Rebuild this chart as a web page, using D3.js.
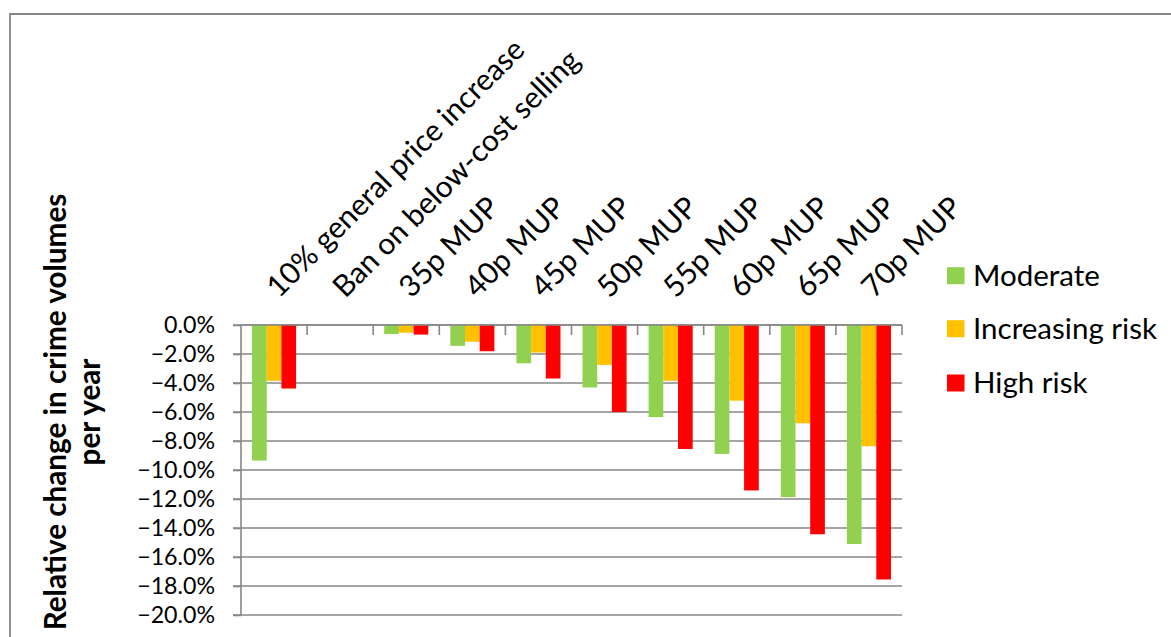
<!DOCTYPE html>
<html><head><meta charset="utf-8">
<script src="https://cdn.jsdelivr.net/npm/d3@7"></script>
<style>body{margin:0;background:#fff;} svg{display:block;font-family:Lato,'Open Sans',sans-serif;}</style>
</head><body><svg id="c" width="1171" height="637"></svg>
<script>
const categories = ["10% general price increase","Ban on below-cost selling","35p MUP","40p MUP","45p MUP","50p MUP","55p MUP","60p MUP","65p MUP","70p MUP"];
const seriesNames = ["Moderate","Increasing risk","High risk"];
const moderate = [-9.35,0,-0.62,-1.44,-2.64,-4.31,-6.35,-8.89,-11.87,-15.1];
const increasingRisk = [-3.85,0,-0.53,-1.15,-1.90,-2.75,-3.85,-5.22,-6.78,-8.36];
const highRisk = [-4.38,0,-0.66,-1.81,-3.69,-6.0,-8.55,-11.41,-14.43,-17.55];
const yTicks = [0,-2,-4,-6,-8,-10,-12,-14,-16,-18,-20];
const yTitle = ["Relative change in crime volumes","per year"];
const colors = ["#92D050","#FFC000","#FF0000"];

const seriesValues = [moderate, increasingRisk, highRisk];
const svg = d3.select("#c");
const grey = "#878787";

// measure helper for font fitting
const meas = svg.append("text").attr("x",-1000).attr("y",-1000);
function fitSize(str, target, weight){
  meas.attr("font-size",20).attr("font-weight",weight||"normal").text(str);
  const w = meas.node().getComputedTextLength();
  return 20*target/w;
}
const tickSize = fitSize("-20.0%", 73);
const catSize = fitSize("10% general price increase", 350);
const legSize = fitSize("Moderate", 127);
const titleSize = fitSize(yTitle[0], 437, "bold");
meas.remove();

// outer border
svg.append("path").attr("d","M10,637 V14 H1171").attr("fill","none").attr("stroke",grey).attr("stroke-width",1.8);

const x0 = d3.scaleBand().domain(categories).range([241,902]).padding(0);
const x1 = d3.scaleBand().domain(seriesNames).range([0,x0.bandwidth()]).paddingInner(0).paddingOuter(0.75);
const y = d3.scaleLinear().domain([0,-20]).range([325,615]);

// gridlines
svg.append("g").selectAll("line").data(yTicks).join("line")
  .attr("x1",233).attr("x2",902)
  .attr("y1",d=>y(d)).attr("y2",d=>y(d))
  .attr("stroke",grey).attr("stroke-width",1.6);

// bars
const groups = svg.append("g").selectAll("g").data(categories).join("g")
  .attr("transform",d=>`translate(${x0(d)},0)`);
groups.selectAll("rect").data((c,i)=>seriesNames.map((s,j)=>({s, j, v: seriesValues[j][i]})))
  .join("rect")
  .attr("x",d=>x1(d.s)).attr("width",x1.bandwidth())
  .attr("y",d=>y(Math.max(0,d.v))).attr("height",d=>Math.abs(y(d.v)-y(0)))
  .attr("fill",d=>colors[d.j]);

// y axis
const yAxis = d3.axisLeft(y).tickValues(yTicks).tickSize(8).tickFormat(d=>d3.format(".1f")(d)+"%");
const ya = svg.append("g").attr("transform","translate(241,0)").call(yAxis);
ya.select(".domain").attr("stroke",grey).attr("stroke-width",1.6).attr("d","M0,325V615");
ya.selectAll(".tick line").attr("stroke",grey).attr("stroke-width",1.6);
ya.selectAll(".tick text").attr("x",-26).attr("font-size",tickSize).attr("font-family","Lato,'Open Sans',sans-serif").attr("fill","#000");

// top category axis line + ticks
svg.append("line").attr("x1",241).attr("x2",902).attr("y1",y(0)).attr("y2",y(0)).attr("stroke",grey).attr("stroke-width",1.6);
const bounds = categories.map(c=>x0(c)+x0.bandwidth());
svg.append("g").selectAll("line").data(bounds).join("line")
  .attr("x1",d=>d).attr("x2",d=>d).attr("y1",y(0)).attr("y2",y(0)+10)
  .attr("stroke",grey).attr("stroke-width",1.6);

// category labels
svg.append("g").selectAll("text").data(categories).join("text")
  .attr("transform",d=>`translate(${x0(d)+x0.bandwidth()/2+5},299) rotate(-45)`)
  .attr("font-size",catSize).attr("fill","#000").text(d=>d);

// y title
const tt = svg.append("text").attr("transform","translate(0,412) rotate(-90)")
  .attr("text-anchor","middle").attr("font-weight","bold").attr("font-size",titleSize).attr("fill","#000");
tt.selectAll("tspan").data(yTitle).join("tspan").attr("x",0).attr("y",(d,i)=>i===0?66:100).text(d=>d);

// legend
const legY = [275.7,328.7,383];
const lg = svg.append("g").selectAll("g").data(seriesNames).join("g")
  .attr("transform",(d,i)=>`translate(947,${legY[i]})`);
lg.append("rect").attr("x",0).attr("y",-8.5).attr("width",17.5).attr("height",17).attr("fill",(d,i)=>colors[i]);
lg.append("text").attr("x",26).attr("dy","0.35em").attr("font-size",legSize).attr("fill","#000").text(d=>d);
</script></body></html>
